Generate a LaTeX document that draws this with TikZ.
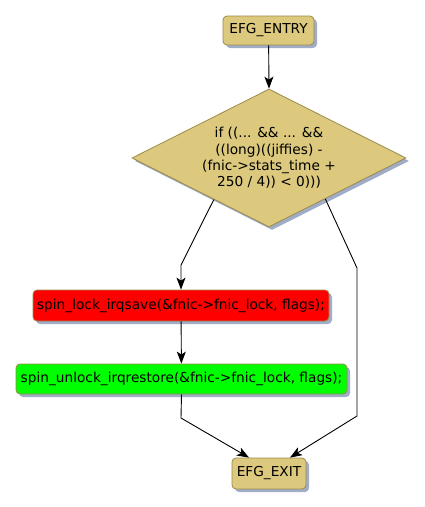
\documentclass[tikz,border=0pt]{standalone}
\usepackage{fontspec}
\setmainfont{DejaVu Sans}
\usetikzlibrary{shapes.geometric,shadows,arrows.meta}
\definecolor{tanfill}{HTML}{DCC97D}
\definecolor{tanedge}{HTML}{9C8A4C}
\definecolor{shadowblue}{HTML}{9FADC8}
\definecolor{redfill}{HTML}{FF0000}
\definecolor{greenfill}{HTML}{00FF00}
\tikzset{
  shd/.style={drop shadow={shadow xshift=3pt,shadow yshift=-3pt,fill=shadowblue,opacity=1}},
  termbox/.style={draw=tanedge,fill=tanfill,rounded corners=4pt,shd,inner sep=0pt,
    font=\fontsize{13.7}{16.3}\selectfont,line width=0.8pt},
  stmtbox/.style={draw=tanedge,rounded corners=4pt,shd,inner sep=0pt,
    font=\fontsize{13.7}{16.3}\selectfont,line width=0.8pt},
  decision/.style={diamond,draw=tanedge,fill=tanfill,shd,inner sep=0pt,aspect=1.986,
    minimum width=274pt,minimum height=138pt,line width=0.8pt},
  condtext/.style={align=center,inner sep=0pt,font=\fontsize{13.7}{16.3}\selectfont},
  conn/.style={draw=black,line width=0.9pt,-{Stealth[length=12pt,width=9pt,inset=3pt]}},
}
\begin{document}
\begin{tikzpicture}[x=1pt,y=-1pt]
\useasboundingbox (0,0) rectangle (425,507);
\node[termbox,minimum width=91pt,minimum height=29pt] (entry) at (268.5,30.5) {EFG\_ENTRY};
\node[decision] (cond) at (269,158) {};
\node[condtext] (condlabel) at (269,158) {if ((... \&\& ... \&\&\\((long)((jiffies) -\\(fnic->stats\_time +\\250 / 4)) < 0)))};
\node[stmtbox,fill=redfill,minimum width=296pt,minimum height=31pt] (lock) at (181,305.5) {spin\_lock\_irqsave(\&fnic->fnic\_lock, flags);};
\node[stmtbox,fill=greenfill,minimum width=331pt,minimum height=30pt] (unlock) at (181.5,379) {spin\_unlock\_irqrestore(\&fnic->fnic\_lock, flags);};
\node[termbox,minimum width=74pt,minimum height=31pt] (exit) at (269,473.5) {EFG\_EXIT};
\coordinate (lbend) at (181,265);
\coordinate (rbend) at (357,268);
\coordinate (rlow) at (357,416);
\coordinate (ulow) at (181,418);
\draw[conn] (entry) -- (cond.north);
\draw[conn] (cond.-143) -- (lbend) -- (lock.north);
\draw[conn] (lock) -- (unlock);
\draw[conn] (unlock.south) -- (ulow) -- (exit.north west -| 249,0);
\draw[conn] (cond.-36) -- (rbend) -- (rlow) -- (exit.north east -| 290,0);
\end{tikzpicture}
\end{document}
